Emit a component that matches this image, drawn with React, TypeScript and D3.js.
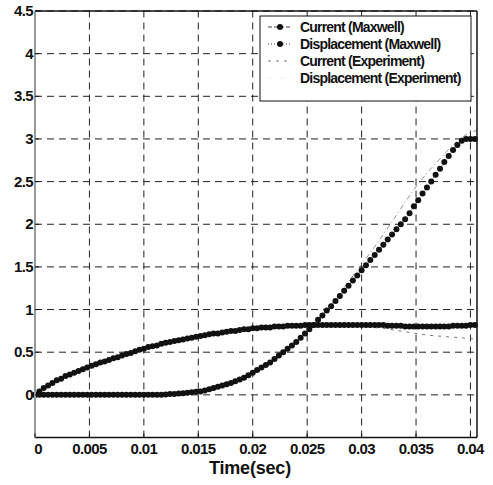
import React from "react";
import * as d3 from "d3";

// ---- Data ----
const T_STEP = 0.0004; // Maxwell sample step (s)
const currentMaxwell = [
  0.0, 0.04, 0.08, 0.11, 0.14, 0.17, 0.19, 0.22, 0.24, 0.26,
  0.28, 0.3, 0.32, 0.34, 0.36, 0.38, 0.39, 0.41, 0.43, 0.44,
  0.46, 0.48, 0.49, 0.51, 0.53, 0.54, 0.56, 0.57, 0.58, 0.6,
  0.61, 0.62, 0.63, 0.64, 0.65, 0.66, 0.67, 0.68, 0.69, 0.7,
  0.71, 0.72, 0.72, 0.73, 0.74, 0.75, 0.75, 0.76, 0.77, 0.77,
  0.78, 0.78, 0.79, 0.79, 0.79, 0.8, 0.8, 0.8, 0.81, 0.81,
  0.81, 0.81, 0.82, 0.82, 0.82, 0.82, 0.82, 0.82, 0.82, 0.82,
  0.82, 0.82, 0.82, 0.82, 0.82, 0.82, 0.82, 0.82, 0.82, 0.82,
  0.82, 0.81, 0.81, 0.81, 0.81, 0.8, 0.8, 0.8, 0.8, 0.8,
  0.8, 0.8, 0.8, 0.8, 0.8, 0.8, 0.81, 0.81, 0.81, 0.81,
  0.82, 0.82,
];
const displacementMaxwell = [
  0, 0, 0, 0, 0, 0, 0, 0, 0, 0,
  0, 0, 0, 0, 0, 0, 0, 0, 0, 0,
  0, 0, 0, 0, 0, 0, 0, 0, 0, 0,
  0.005, 0.01, 0.01, 0.015, 0.02, 0.025, 0.03, 0.035, 0.04, 0.05,
  0.065, 0.08, 0.095, 0.11, 0.125, 0.14, 0.16, 0.18, 0.2, 0.23,
  0.26, 0.29, 0.32, 0.35, 0.38, 0.42, 0.46, 0.5, 0.54, 0.58,
  0.62, 0.67, 0.72, 0.77, 0.82, 0.88, 0.93, 0.99, 1.04, 1.1,
  1.16, 1.22, 1.28, 1.34, 1.4, 1.46, 1.52, 1.58, 1.64, 1.7,
  1.76, 1.82, 1.88, 1.94, 2.0, 2.06, 2.13, 2.21, 2.28, 2.36,
  2.43, 2.5, 2.58, 2.65, 2.73, 2.8, 2.87, 2.93, 2.98, 3.0,
  3.0, 3.0,
];
const expTime = [
  0, 0.001, 0.002, 0.003, 0.004, 0.005, 0.006, 0.007, 0.008, 0.009,
  0.01, 0.011, 0.012, 0.013, 0.014, 0.015, 0.016, 0.017, 0.018, 0.019,
  0.02, 0.021, 0.022, 0.023, 0.024, 0.025, 0.026, 0.027, 0.028, 0.029,
  0.03, 0.031, 0.032, 0.033, 0.034, 0.035, 0.036, 0.037, 0.038, 0.039,
  0.04, 0.0406,
];
const currentExperiment = [
  0, 0.09, 0.17, 0.23, 0.28, 0.33, 0.38, 0.42, 0.46, 0.5,
  0.54, 0.57, 0.6, 0.63, 0.66, 0.68, 0.71, 0.73, 0.75, 0.76,
  0.78, 0.79, 0.8, 0.8, 0.81, 0.81, 0.81, 0.81, 0.81, 0.8,
  0.8, 0.79, 0.78, 0.76, 0.74, 0.72, 0.7, 0.69, 0.68, 0.67,
  0.66, 0.65,
];
const displacementExperiment = [
  0, 0, 0, 0, 0, 0, 0, 0, 0, 0,
  0, 0, 0, 0.01, 0.02, 0.04, 0.07, 0.1, 0.14, 0.19,
  0.25, 0.32, 0.4, 0.5, 0.61, 0.74, 0.88, 1.03, 1.19, 1.36,
  1.53, 1.7, 1.88, 2.07, 2.26, 2.44, 2.6, 2.74, 2.88, 3.0,
  3.08, 3.1,
];
const xTicks = [0, 0.005, 0.01, 0.015, 0.02, 0.025, 0.03, 0.035, 0.04];
const xTickLabels = ["0", "0.005", "0.01", "0.015", "0.02", "0.025", "0.03", "0.035", "0.04"];
const yTicks = [0, 0.5, 1, 1.5, 2, 2.5, 3, 3.5, 4, 4.5];
const yTickLabels = ["0", "0.5", "1", "1.5", "2", "2.5", "3", "3.5", "4", "4.5"];
const legendLabels = [
  "Current (Maxwell)",
  "Displacement (Maxwell)",
  "Current (Experiment)",
  "Displacement (Experiment)",
];
const xLabel = "Time(sec)";

export default function App() {
  const W = 493, H = 485;
  const x = d3.scaleLinear().domain([0, 0.0406]).range([35, 477]);
  const y = d3.scaleLinear().domain([-0.5, 4.5]).range([437.5, 11]);
  const font = "'Liberation Sans', Arial, sans-serif";

  const mx = currentMaxwell.map((v, i) => [i * T_STEP, v] as [number, number]);
  const md = displacementMaxwell.map((v, i) => [i * T_STEP, v] as [number, number]);
  const ec = currentExperiment.map((v, i) => [expTime[i], v] as [number, number]);
  const ed = displacementExperiment.map((v, i) => [expTime[i], v] as [number, number]);
  const line = d3.line<[number, number]>().x(d => x(d[0])).y(d => y(d[1]));

  const [x0, x1] = x.range();
  const [yb, yt] = y.range();

  const legX = 260, legY = 16, legW = 211, legH = 85;
  const rowY = (i: number) => legY + 11 + i * 17;
  const R = 3;

  return (
    <svg width={W} height={H} style={{ position: "absolute", left: 0, top: 0, background: "#fff" }}
      fontFamily={font}>
      <rect x={0} y={0} width={W} height={H} fill="#fff" />
      {/* grid */}
      <g stroke="#222" strokeWidth={1} strokeDasharray="7,5">
        {xTicks.filter(t => t > 0).map(t => (
          <line key={"gx" + t} x1={x(t)} x2={x(t)} y1={yb} y2={yt} />
        ))}
        {yTicks.map(t => (
          <line key={"gy" + t} x1={x0} x2={x1} y1={y(t)} y2={y(t)} />
        ))}
      </g>
      {/* experiment lines */}
      <path d={line(ec) || ""} fill="none" stroke="#555" strokeWidth={0.8} strokeDasharray="3,5" />
      <path d={line(ed) || ""} fill="none" stroke="#777" strokeWidth={0.8} strokeDasharray="5,3,1,3" />
      {/* maxwell lines + markers */}
      <path d={line(mx) || ""} fill="none" stroke="#111" strokeWidth={0.8} strokeDasharray="4,2" />
      <path d={line(md) || ""} fill="none" stroke="#111" strokeWidth={0.8} strokeDasharray="1,2" />
      <g fill="#111">
        {mx.map((d, i) => <circle key={"mc" + i} cx={x(d[0])} cy={y(d[1])} r={R} />)}
        {md.map((d, i) => <circle key={"md" + i} cx={x(d[0])} cy={y(d[1])} r={R} />)}
      </g>
      {/* frame */}
      <line x1={x0} x2={x1} y1={yt} y2={yt} stroke="#111" strokeWidth={1.5} />
      <line x1={x1} x2={x1} y1={yt} y2={yb} stroke="#111" strokeWidth={1.5} />
      <line x1={x0} x2={x1} y1={yb} y2={yb} stroke="#111" strokeWidth={1.5} />
      <line x1={x0} x2={x0} y1={yt} y2={yb} stroke="#999" strokeWidth={2} />
      {/* ticks */}
      <g stroke="#111" strokeWidth={1}>
        {xTicks.map(t => (
          <line key={"tx" + t} x1={x(t)} x2={x(t)} y1={yb} y2={yb - 4} />
        ))}
        {yTicks.map(t => (
          <line key={"ty" + t} x1={x0} x2={x0 + 4} y1={y(t)} y2={y(t)} />
        ))}
      </g>
      {/* tick labels */}
      <g fontSize={15} fill="#111" letterSpacing={-0.6} fontWeight="bold">
        {xTicks.map((t, i) => (
          <text key={"lx" + t} x={x(t) + (i === 0 ? 3 : 0)} y={454} textAnchor="middle">{xTickLabels[i]}</text>
        ))}
        {yTicks.map((t, i) => (
          <text key={"ly" + t} x={33} y={y(t) + 5} textAnchor="end">{yTickLabels[i]}</text>
        ))}
      </g>
      <text x={250} y={474} textAnchor="middle" fontSize={18} letterSpacing={-0.2} fill="#111"
        fontWeight="bold">{xLabel}</text>
      {/* legend */}
      <rect x={legX} y={legY} width={legW} height={legH} fill="#fff" stroke="#111" strokeWidth={1} />
      <g>
        <line x1={268} x2={291} y1={rowY(0)} y2={rowY(0)} stroke="#111" strokeWidth={0.8} strokeDasharray="4,2" />
        <circle cx={280} cy={rowY(0)} r={R} fill="#111" />
        <line x1={268} x2={291} y1={rowY(1)} y2={rowY(1)} stroke="#111" strokeWidth={0.8} strokeDasharray="1,2" />
        <circle cx={280} cy={rowY(1)} r={R} fill="#111" />
        <line x1={268} x2={291} y1={rowY(2)} y2={rowY(2)} stroke="#555" strokeWidth={0.8} strokeDasharray="3,5" />
        <line x1={268} x2={291} y1={rowY(3)} y2={rowY(3)} stroke="#eee" strokeWidth={0.8} strokeDasharray="5,3,1,3" />
        {legendLabels.map((l, i) => (
          <text key={l} x={300} y={rowY(i) + 5} fontSize={14} letterSpacing={-0.8} fill="#111"
            fontWeight="bold">{l}</text>
        ))}
      </g>
    </svg>
  );
}
